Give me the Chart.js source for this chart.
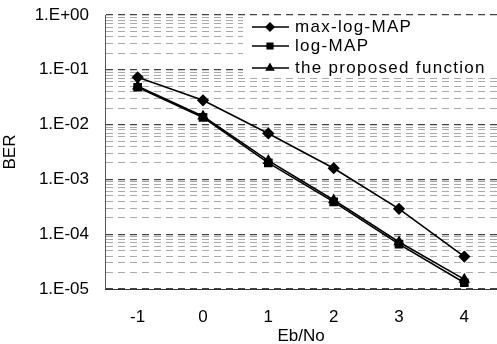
<!DOCTYPE html>
<html>
<head>
<meta charset="utf-8">
<script src="https://cdn.jsdelivr.net/npm/chart.js@4"></script>
<style>
  html, body { margin: 0; padding: 0; background: #fff; }
  #wrap { width: 497px; height: 344px; }
</style>
</head>
<body>
<div id="wrap"><canvas id="myChart"></canvas></div>
<script>
// data
const ebNo = ['-1', '0', '1', '2', '3', '4'];
const maxLogMap = [0.073, 0.0277, 0.0069, 0.0016, 0.00029, 0.000039];
const logMap = [0.048, 0.0135, 0.0020, 0.00039, 0.000066, 0.000013];
const proposed = [0.050, 0.0142, 0.0022, 0.00042, 0.000072, 0.000015];
const decades = [-5, -4, -3, -2, -1, 0];

const FONT = '"Liberation Sans", Arial, sans-serif';

function decadeLabel(e) {
    const s = e < 0 ? '-' : '+';
    return '1.E' + s + String(Math.abs(e)).padStart(2, '0');
}

// legend drawn inside the plot, upper right
const boxLegend = {
    id: 'boxLegend',
    afterDraw(chart) {
        const c = chart.ctx;
        c.save();
        c.fillStyle = '#fff';
        c.fillRect(243, 17, 254, 61);
        const rows = [27, 46, 68];
        chart.data.datasets.forEach((ds, i) => {
            const y = rows[i];
            c.strokeStyle = '#000';
            c.lineWidth = 1.5;
            c.beginPath();
            c.moveTo(252, y);
            c.lineTo(289, y);
            c.stroke();
            c.fillStyle = '#000';
            Chart.helpers.drawPoint(c, {
                pointStyle: ds.pointStyle,
                radius: 4,
                borderWidth: 1
            }, 270, y);
            c.font = '17px ' + FONT;
            c.letterSpacing = '1.3px';
            c.textBaseline = 'middle';
            c.fillText(ds.label, 295, y);
        });
        c.restore();
    }
};

const ctx = document.getElementById('myChart');
new Chart(ctx, {
    type: 'line',
    data: {
        labels: ebNo,
        datasets: [
            {
                label: 'max-log-MAP',
                data: maxLogMap,
                borderColor: '#000',
                backgroundColor: '#000',
                borderWidth: 1.6,
                pointStyle: 'rectRot',
                pointRadius: 5,
                tension: 0
            },
            {
                label: 'log-MAP',
                data: logMap,
                borderColor: '#000',
                backgroundColor: '#000',
                borderWidth: 1.6,
                pointStyle: 'rect',
                pointRadius: 5,
                tension: 0
            },
            {
                label: 'the proposed function',
                data: proposed,
                borderColor: '#000',
                backgroundColor: '#000',
                borderWidth: 1.6,
                pointStyle: 'triangle',
                pointRadius: 5,
                tension: 0
            }
        ]
    },
    options: {
        responsive: true,
        maintainAspectRatio: false,
        animation: false,
        layout: { autoPadding: false, padding: { left: 0, top: 15, right: 0, bottom: 0 } },
        plugins: {
            legend: { display: false },
            tooltip: { enabled: false }
        },
        scales: {
            x: {
                type: 'category',
                offset: true,
                grid: { display: false },
                border: { display: true, color: '#333', width: 1 },
                ticks: { color: '#000', font: { family: FONT, size: 17 }, padding: 10 },
                title: {
                    display: true,
                    text: 'Eb/No',
                    color: '#000',
                    font: { family: FONT, size: 17 },
                    padding: { top: 0, bottom: -3 }
                },
                afterFit(s) {
                    s.height = 55;
                    s.paddingLeft = 0;
                    s.paddingRight = 0;
                }
            },
            y: {
                type: 'logarithmic',
                min: 1e-5,
                max: 1,
                afterBuildTicks(scale) {
                    const t = [];
                    decades.forEach(e => {
                        const m = e === 0 ? [1] : [1, 2, 3, 4, 5, 6, 7, 8, 9];
                        m.forEach(k => t.push({ value: k * Math.pow(10, e), major: k === 1 }));
                    });
                    scale.ticks = t;
                },
                afterFit(s) {
                    s.width = 105;
                    s.paddingTop = 0;
                    s.paddingBottom = 0;
                },
                ticks: {
                    color: '#000',
                    font: { family: FONT, size: 17 },
                    padding: 16,
                    autoSkip: false,
                    callback(v) {
                        const e = Math.log10(v);
                        if (Math.abs(e - Math.round(e)) < 1e-6) return decadeLabel(Math.round(e));
                        return '';
                    }
                },
                grid: {
                    drawTicks: false,
                    color(c) {
                        return c.tick && c.tick.major ? '#444' : '#aaa';
                    },
                    lineWidth(c) {
                        return c.tick && c.tick.major ? 1.2 : 1;
                    }
                },
                border: { display: true, color: '#555', width: 1, dash: [7, 5] },
                title: {
                    display: true,
                    text: 'BER',
                    color: '#000',
                    font: { family: FONT, size: 17 },
                    padding: { top: 0, bottom: 0 }
                }
            }
        }
    },
    plugins: [boxLegend]
});
</script>
</body>
</html>
